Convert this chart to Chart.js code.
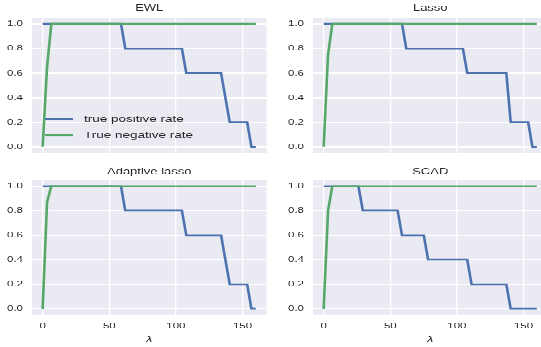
<!DOCTYPE html>
<html>
<head>
<meta charset="utf-8">
<script src="https://cdn.jsdelivr.net/npm/chart.js@4.4.1/dist/chart.umd.min.js"></script>
<style>
  html, body { margin: 0; padding: 0; background: #fff; overflow: hidden; }
  /* the reference figure is squashed vertically, so draw tall and scale down */
  #figure { position: absolute; left: 0; top: 0; width: 541px; height: 496px; overflow: hidden;
            transform: scaleY(0.7); transform-origin: 0 0; }
  #figure canvas { position: absolute; }
</style>
</head>
<body>
<div id="figure">
  <canvas id="ewl" width="270" height="236" style="left:0;top:0"></canvas>
  <canvas id="lasso" width="270" height="236" style="left:281px;top:0"></canvas>
  <canvas id="alasso" width="270" height="260" style="left:0;top:236px"></canvas>
  <canvas id="scad" width="270" height="260" style="left:281px;top:236px"></canvas>
</div>
<script>
// Datos (lambda en el eje x, tasa en el eje y)
const panelTitles = ["EWL", "Lasso", "Adaptive lasso", "SCAD"];
const seriesLabels = ["true positive rate", "True negative rate"];
const xTickValues = [0, 50, 100, 150];
const yTickValues = [0, 0.2, 0.4, 0.6, 0.8, 1.0];

const ewlTprLambda = [0, 58.8, 62.0, 104.5, 107.8, 133.9, 140.4, 153.5, 156.7, 160];
const ewlTprRate = [1, 1, 0.8, 0.8, 0.6, 0.6, 0.2, 0.2, 0, 0];
const ewlTnrLambda = [0, 3.3, 6.5, 160];
const ewlTnrRate = [0, 0.65, 1, 1];

const lassoTprLambda = [0, 58.8, 62.0, 104.5, 107.8, 137.1, 140.4, 153.5, 156.7, 160];
const lassoTprRate = [1, 1, 0.8, 0.8, 0.6, 0.6, 0.2, 0.2, 0, 0];
const lassoTnrLambda = [0, 3.3, 6.5, 160];
const lassoTnrRate = [0, 0.75, 1, 1];

const alassoTprLambda = [0, 58.8, 62.0, 104.5, 107.8, 133.9, 140.4, 153.5, 156.7, 160];
const alassoTprRate = [1, 1, 0.8, 0.8, 0.6, 0.6, 0.2, 0.2, 0, 0];
const alassoTnrLambda = [0, 3.3, 6.5, 160];
const alassoTnrRate = [0, 0.87, 1, 1];

const scadTprLambda = [0, 26.1, 29.4, 55.5, 58.8, 75.1, 78.4, 107.8, 111.0, 137.1, 140.4, 160];
const scadTprRate = [1, 1, 0.8, 0.8, 0.6, 0.6, 0.4, 0.4, 0.2, 0.2, 0, 0];
const scadTnrLambda = [0, 3.3, 6.5, 160];
const scadTnrRate = [0, 0.8, 1, 1];

const BLUE = "#4C72B0";
const GREEN = "#55A868";
const TEXT = "#262626";
const FONT = "'Liberation Sans', Arial, sans-serif";

const toPoints = (xs, ys) => xs.map((x, i) => ({ x: x, y: ys[i] }));

// fondo gris del area de dibujo (estilo seaborn)
const plotBackground = {
  id: "plotBackground",
  beforeDraw(chart) {
    const { ctx, chartArea: a } = chart;
    ctx.save();
    ctx.fillStyle = "#EAEAF2";
    ctx.fillRect(a.left, a.top, a.right - a.left, a.bottom - a.top);
    ctx.restore();
  },
};

// leyenda dentro del primer panel, sin marco
const insideLegend = {
  id: "insideLegend",
  afterDatasetsDraw(chart) {
    const { ctx, chartArea: a } = chart;
    ctx.save();
    ctx.font = "13.5px " + FONT;
    ctx.textBaseline = "middle";
    chart.data.datasets.forEach((ds, i) => {
      const y = a.top + 145 + i * 22.5;
      ctx.strokeStyle = ds.borderColor;
      ctx.lineWidth = ds.borderWidth;
      ctx.beginPath();
      ctx.moveTo(a.left + 13, y);
      ctx.lineTo(a.left + 41, y);
      ctx.stroke();
      ctx.fillStyle = TEXT;
      ctx.fillText(ds.label, a.left + 52, y);
    });
    ctx.restore();
  },
};

function makePanel(id, title, tpr, tnr, bottomRow, withLegend) {
  const ctx = document.getElementById(id).getContext("2d");
  return new Chart(ctx, {
    type: "line",
    data: {
      datasets: [
        { label: seriesLabels[0], data: toPoints(tpr[0], tpr[1]), borderColor: BLUE,
          borderWidth: 2.6, pointRadius: 0, tension: 0, order: 1 },
        { label: seriesLabels[1], data: toPoints(tnr[0], tnr[1]), borderColor: GREEN,
          borderWidth: 2.6, pointRadius: 0, tension: 0, order: 0 },
      ],
    },
    options: {
      responsive: false,
      animation: false,
      events: [],
      layout: { padding: { left: 0, right: 3.5, top: 0, bottom: 0 } },
      plugins: {
        legend: { display: false },
        tooltip: { enabled: false },
        title: {
          display: true,
          text: title,
          fullSize: false,
          color: TEXT,
          font: { family: FONT, size: 13, weight: "normal", lineHeight: 1.2 },
          padding: bottomRow ? { top: 1.2, bottom: 4.2 } : { top: 4, bottom: 5.7 },
        },
      },
      scales: {
        x: {
          type: "linear",
          min: -8,
          max: 168,
          afterBuildTicks: (s) => { s.ticks = xTickValues.map((v) => ({ value: v })); },
          afterFit: (s) => { s.height = bottomRow ? 46.1 : 17.4; },
          grid: { color: "#ffffff", lineWidth: 1.3, drawTicks: false },
          border: { display: false },
          ticks: { display: bottomRow, color: TEXT, padding: 9, maxRotation: 0,
                   font: { family: FONT, size: 11.5 } },
          title: { display: bottomRow, text: "λ", color: TEXT,
                   font: { family: "'DejaVu Sans', sans-serif", style: "italic", size: 12 },
                   padding: { top: 0, bottom: 2.5 } },
        },
        y: {
          min: -0.05,
          max: 1.05,
          afterBuildTicks: (s) => { s.ticks = yTickValues.map((v) => ({ value: v })); },
          afterFit: (s) => { s.width = 32; },
          grid: { color: "#ffffff", lineWidth: 1.9, drawTicks: false },
          border: { display: false },
          ticks: { color: TEXT, padding: 9, font: { family: FONT, size: 11.5 },
                   callback: (v) => Number(v).toFixed(1) },
        },
      },
    },
    plugins: withLegend ? [plotBackground, insideLegend] : [plotBackground],
  });
}

makePanel("ewl", panelTitles[0], [ewlTprLambda, ewlTprRate], [ewlTnrLambda, ewlTnrRate], false, true);
makePanel("lasso", panelTitles[1], [lassoTprLambda, lassoTprRate], [lassoTnrLambda, lassoTnrRate], false, false);
makePanel("alasso", panelTitles[2], [alassoTprLambda, alassoTprRate], [alassoTnrLambda, alassoTnrRate], true, false);
makePanel("scad", panelTitles[3], [scadTprLambda, scadTprRate], [scadTnrLambda, scadTnrRate], true, false);
</script>
</body>
</html>
